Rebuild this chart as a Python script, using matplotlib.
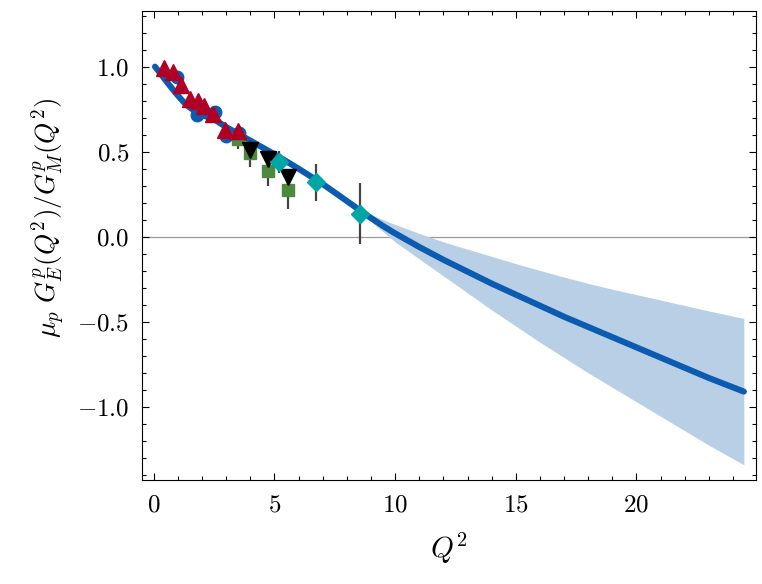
import numpy as np
import matplotlib
matplotlib.use("Agg")
import matplotlib.pyplot as plt
from matplotlib.ticker import MultipleLocator, FuncFormatter

plt.rcParams['mathtext.fontset'] = 'cm'
plt.rcParams['font.family'] = 'serif'
plt.rcParams['font.serif'] = ['DejaVu Serif']

# fit curve and band
q2_fit = [0.05, 0.3, 0.57, 0.85, 1.12, 1.35, 1.54, 1.75, 1.95, 2.2, 2.5, 3.0, 3.5, 4.0, 4.5,
          5.0, 5.5, 6.0, 6.5, 7.0, 7.5, 8.0, 8.5, 9.0, 9.5, 10.0, 11.0, 12.0, 13.0, 14.0,
          15.0, 16.0, 17.0, 18.0, 19.0, 20.0, 21.0, 22.0, 23.0, 24.45]
ratio_fit = [1.0, 0.955, 0.905, 0.855, 0.81, 0.775, 0.755, 0.735, 0.72, 0.705, 0.69, 0.645,
             0.605, 0.565, 0.525, 0.485, 0.443, 0.40, 0.355, 0.31, 0.26, 0.21, 0.16,
             0.11, 0.063, 0.02, -0.06, -0.135, -0.205, -0.275, -0.34, -0.405, -0.47,
             -0.53, -0.59, -0.65, -0.71, -0.77, -0.83, -0.91]
band_lo = [1.0, 0.955, 0.905, 0.855, 0.81, 0.775, 0.755, 0.735, 0.72, 0.705, 0.69, 0.645,
           0.605, 0.565, 0.525, 0.485, 0.443, 0.40, 0.355, 0.31, 0.258, 0.205, 0.15,
           0.09, 0.03, -0.03, -0.13, -0.23, -0.33, -0.43, -0.525, -0.62, -0.71,
           -0.80, -0.885, -0.97, -1.055, -1.14, -1.225, -1.34]
band_hi = [1.0, 0.955, 0.905, 0.855, 0.81, 0.775, 0.755, 0.735, 0.72, 0.705, 0.69, 0.645,
           0.605, 0.565, 0.525, 0.485, 0.443, 0.40, 0.355, 0.31, 0.262, 0.215, 0.17,
           0.13, 0.10, 0.072, 0.02, -0.03, -0.073, -0.115, -0.158, -0.198, -0.237,
           -0.274, -0.308, -0.34, -0.372, -0.404, -0.436, -0.48]

# data sets
q2_circ = [0.95, 1.81, 2.55, 3.0, 3.55]
r_circ = [0.94, 0.715, 0.735, 0.595, 0.61]

q2_tri = [0.44, 0.79, 1.13, 1.48, 1.82, 2.1, 2.45, 2.94, 3.49]
r_tri = [0.99, 0.97, 0.89, 0.81, 0.80, 0.77, 0.72, 0.63, 0.62]

q2_sq = [3.49, 3.97, 4.73, 5.55]
r_sq = [0.575, 0.49, 0.385, 0.275]
e_sq = [0.06, 0.08, 0.085, 0.11]

q2_dtri = [3.97, 4.73, 5.55]
r_dtri = [0.51, 0.455, 0.35]
e_dtri = [0.03, 0.03, 0.04]

q2_dia = [5.18, 6.73, 8.53]
r_dia = [0.44, 0.32, 0.135]
e_dia = [0.065, 0.11, 0.18]

fig = plt.figure(figsize=(7.62, 5.84), dpi=100)
ax = fig.add_axes([0.186, 0.178, 0.806, 0.804])

ax.axhline(0, color='#999999', lw=0.9, zorder=1)
ax.fill_between(q2_fit, band_lo, band_hi, color='#b8cfe6', lw=0, zorder=2)
ax.plot(q2_fit, ratio_fit, color='#0b5cb0', lw=4.4, solid_capstyle='round',
        solid_joinstyle='round', zorder=3)

ax.plot(q2_circ, r_circ, 'o', color='#0b5cb0', ms=9, zorder=4)
ax.errorbar(q2_sq, r_sq, yerr=e_sq, fmt='s', color='#4e8a3e', ecolor='#444444',
            elinewidth=1.6, ms=8, zorder=5)
ax.errorbar(q2_dtri, r_dtri, yerr=e_dtri, fmt='v', color='black', ecolor='#444444',
            elinewidth=1.6, ms=12, zorder=6)
ax.errorbar(q2_dia, r_dia, yerr=e_dia, fmt='D', color='#00a6a6', ecolor='#444444',
            elinewidth=1.6, ms=9, zorder=6)
ax.plot(q2_tri, r_tri, '^', color='#b00026', ms=12, zorder=7)

ax.set_xlim(-0.5, 24.95)
ax.set_ylim(-1.43, 1.33)
ax.xaxis.set_major_locator(MultipleLocator(5))
ax.xaxis.set_minor_locator(MultipleLocator(1))
ax.yaxis.set_major_locator(MultipleLocator(0.5))
ax.yaxis.set_minor_locator(MultipleLocator(0.1))
ax.xaxis.set_major_formatter(FuncFormatter(lambda v, p: r'$%d$' % round(v)))
ax.yaxis.set_major_formatter(FuncFormatter(lambda v, p: r'$%.1f$' % v))
ax.tick_params(which='both', direction='in', top=True, right=True, labelsize=18)
ax.tick_params(axis='x', pad=10)
ax.tick_params(axis='y', pad=9)
ax.tick_params(which='major', length=5, width=0.8)
ax.tick_params(which='minor', length=3, width=0.8)

ax.set_xlabel(r'$Q^2$', fontsize=21, labelpad=10)
ax.set_ylabel(r'$\mu_p\ G_E^p(Q^2)/G_M^p(Q^2)$', fontsize=19.5)
ax.yaxis.set_label_coords(-0.12, 0.56)

fig.savefig('out.png', dpi=100)
